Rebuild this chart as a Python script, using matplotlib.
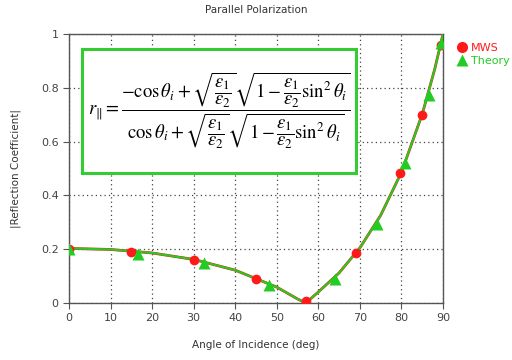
import matplotlib
matplotlib.use("Agg")
import matplotlib.pyplot as plt
from matplotlib.patches import Rectangle
from matplotlib.lines import Line2D

plt.rcParams['mathtext.fontset'] = 'stix'

# curve values
curve_angle = [0, 10, 20, 30, 40, 50, 55, 57, 60, 65, 70, 75, 80, 85, 88, 90]
curve_val = [0.203, 0.199, 0.186, 0.162, 0.122, 0.059, 0.015, 0.0, 0.041, 0.112, 0.205, 0.326, 0.486, 0.702, 0.869, 1.0]

mws_angle = [0, 15, 30, 45, 57, 69, 79.7, 85, 89.4]
mws_val = [0.20, 0.188, 0.159, 0.091, 0.006, 0.187, 0.484, 0.70, 0.958]

theory_angle = [0, 16.5, 32.5, 48.2, 64, 74.1, 80.9, 86.7, 89.5]
theory_val = [0.20, 0.183, 0.147, 0.066, 0.091, 0.294, 0.52, 0.775, 0.965]

xticks = [0, 10, 20, 30, 40, 50, 60, 70, 80, 90]
yticks = [0, 0.2, 0.4, 0.6, 0.8, 1]
ytick_labels = ['0', '0.2', '0.4', '0.6', '0.8', '1']

fig = plt.figure(figsize=(5.12, 3.6), dpi=100)
ax = fig.add_axes([69/512, 1-303/360, 374/512, 269/360])

red = '#ff1a1a'
green = '#22cc22'

ax.plot(curve_angle, curve_val, color=red, lw=2.0, zorder=3)
ax.plot(curve_angle, curve_val, color=green, lw=1.5, zorder=4)
ax.plot(mws_angle, mws_val, 'o', color=red, ms=7, mec='none', zorder=5)
ax.plot(theory_angle, theory_val, '^', color=green, ms=8, mec='none', zorder=6)

ax.set_xlim(0, 90)
ax.set_ylim(0, 1)
ax.set_xticks(xticks)
ax.set_yticks(yticks)
ax.set_yticklabels(ytick_labels)
ax.grid(True, color='#444444', linestyle=(0, (1, 2.5)), lw=0.9)
for s in ax.spines.values():
    s.set_color('#555555')
    s.set_linewidth(1.0)
ax.tick_params(colors='#555555', labelcolor='#444444', labelsize=8, length=4, width=0.8)

ax.set_title('Parallel Polarization', fontsize=7.5, color='#333333', pad=15)
ax.set_xlabel('Angle of Incidence (deg)', fontsize=7.5, color='#333333', labelpad=12)
ax.set_ylabel('|Reflection Coefficient|', fontsize=7.5, color='#333333', labelpad=14)

rect = Rectangle((0.035, 0.485), 0.732, 0.459, transform=ax.transAxes,
                 facecolor='white', edgecolor='#33cc33', lw=2.2, zorder=7)
ax.add_patch(rect)

eq = (r'$r_{\|} = \dfrac{-\cos\theta_i + \sqrt{\dfrac{\varepsilon_1}{\varepsilon_2}}'
      r'\sqrt{1-\dfrac{\varepsilon_1}{\varepsilon_2}\sin^2\theta_i}}'
      r'{\cos\theta_i + \sqrt{\dfrac{\varepsilon_1}{\varepsilon_2}}'
      r'\sqrt{1-\dfrac{\varepsilon_1}{\varepsilon_2}\sin^2\theta_i}}$')
ax.text(0.401, 0.715, eq, transform=ax.transAxes, ha='center', va='center',
        fontsize=13.4, zorder=8)

handles = [Line2D([], [], marker='o', color=red, ls='none', ms=8, mec='none'),
           Line2D([], [], marker='^', color=green, ls='none', ms=8, mec='none')]
leg = fig.legend(handles, ['MWS', 'Theory'], loc='upper left',
                 bbox_to_anchor=(445/512, 1-33/360), frameon=False,
                 fontsize=8, handletextpad=0.2, labelspacing=0.3, handlelength=1.2)
for t, c in zip(leg.get_texts(), [red, green]):
    t.set_color(c)

fig.savefig('out.png', dpi=100)
